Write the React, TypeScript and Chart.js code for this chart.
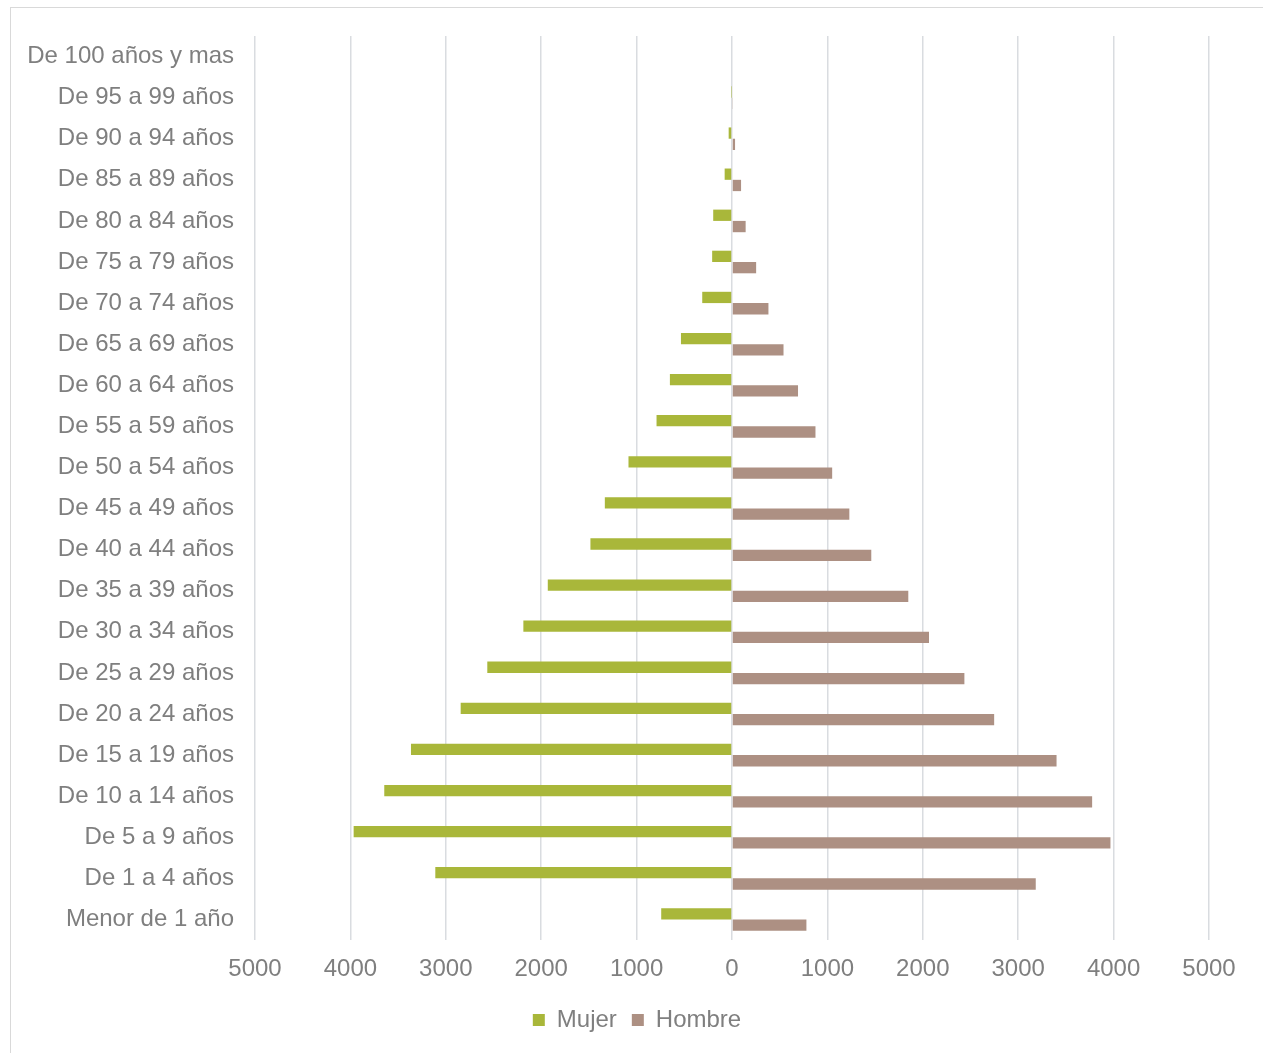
import React, { useEffect, useRef } from "react";
import { Chart, registerables } from "chart.js";

Chart.register(...registerables);

const categories: string[] = [
  "De 100 años y mas",
  "De 95 a 99 años",
  "De 90 a 94 años",
  "De 85 a 89 años",
  "De 80 a 84 años",
  "De 75 a 79 años",
  "De 70 a 74 años",
  "De 65 a 69 años",
  "De 60 a 64 años",
  "De 55 a 59 años",
  "De 50 a 54 años",
  "De 45 a 49 años",
  "De 40 a 44 años",
  "De 35 a 39 años",
  "De 30 a 34 años",
  "De 25 a 29 años",
  "De 20 a 24 años",
  "De 15 a 19 años",
  "De 10 a 14 años",
  "De 5 a 9 años",
  "De 1 a 4 años",
  "Menor de 1 año",
];

const mujer: number[] = [
  0, 3, 35, 77, 197, 208, 312, 535, 651, 791, 1085, 1333, 1484, 1931, 2187,
  2565, 2844, 3365, 3645, 3966, 3110, 742,
];

const hombre: number[] = [
  0, 6, 32, 95, 143, 253, 382, 540, 692, 875, 1050, 1230, 1460, 1848, 2065,
  2436, 2748, 3402, 3775, 3967, 3184, 780,
];

const xMin = -5000;
const xMax = 5000;
const xStep = 1000;

const seriesNames = ["Mujer", "Hombre"];
const seriesColors = ["#A9B73A", "#AD9083"];

const FONT = "'Liberation Sans', Arial, sans-serif";
const TEXT = "#7F7F7F";
const GRID = "#D9DCE0";

export default function App() {
  const ref = useRef<HTMLCanvasElement | null>(null);

  useEffect(() => {
    if (!ref.current) return;
    const chart = new Chart(ref.current, {
      type: "bar",
      data: {
        labels: categories,
        datasets: [
          {
            label: seriesNames[0],
            data: mujer.map((v) => -v),
            backgroundColor: seriesColors[0],
            borderWidth: 0,
            categoryPercentage: 0.55,
            barPercentage: 1,
          },
          {
            label: seriesNames[1],
            data: hombre,
            backgroundColor: seriesColors[1],
            borderWidth: 0,
            categoryPercentage: 0.55,
            barPercentage: 1,
          },
        ],
      },
      options: {
        indexAxis: "y",
        animation: false,
        responsive: true,
        maintainAspectRatio: false,
        layout: { padding: { left: 0, right: 0, top: 28, bottom: 11 } },
        scales: {
          x: {
            min: xMin,
            max: xMax,
            afterFit: (s: any) => {
              s.height = 53;
            },
            ticks: {
              stepSize: xStep,
              padding: 15,
              color: TEXT,
              font: { family: FONT, size: 24 },
              callback: (v: any) => String(Math.abs(Number(v))),
            },
            grid: { color: GRID, lineWidth: 1.5, drawTicks: false },
            border: { display: false },
          },
          y: {
            afterFit: (s: any) => {
              s.width = 244;
              s.paddingTop = 0;
              s.paddingBottom = 0;
            },
            ticks: {
              padding: 21,
              color: TEXT,
              font: { family: FONT, size: 24 },
              autoSkip: false,
            },
            grid: { display: false, drawTicks: false },
            border: { display: false },
          },
          yRight: {
            type: "category",
            axis: "y",
            position: "right",
            labels: categories,
            afterFit: (s: any) => {
              s.width = 54;
              s.paddingTop = 0;
              s.paddingBottom = 0;
            },
            ticks: { display: false },
            grid: { display: false, drawTicks: false },
            border: { display: false },
          },
        },
        plugins: {
          legend: {
            position: "bottom",
            labels: {
              boxWidth: 12,
              boxHeight: 12,
              padding: 15,
              color: TEXT,
              font: { family: FONT, size: 24 },
            },
          },
          tooltip: { enabled: false },
        },
      },
    });
    return () => chart.destroy();
  }, []);

  return (
    <div
      style={{
        position: "absolute",
        left: 10,
        top: 7,
        width: 1253,
        height: 1046,
        boxSizing: "border-box",
        borderTop: "1px solid #D9D9D9",
        borderLeft: "1px solid #D9D9D9",
        background: "#fff",
      }}
    >
      <div style={{ position: "relative", width: 1252, height: 1045 }}>
        <canvas ref={ref} />
      </div>
    </div>
  );
}
